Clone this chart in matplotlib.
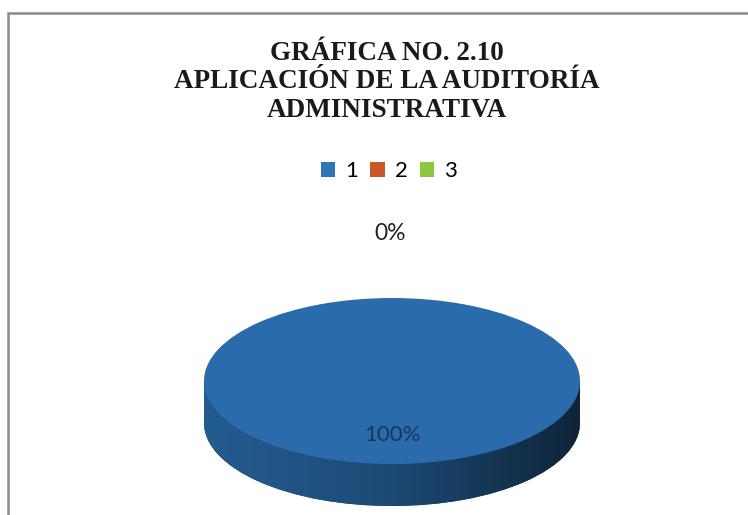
import numpy as np
import matplotlib.pyplot as plt
from matplotlib.patches import Rectangle
from matplotlib.colors import LinearSegmentedColormap

# datos de la grafica
labels = ["1", "2", "3"]
values = [100, 0, 0]
colors = ["#2a6cab", "#c55a2b", "#8dc63f"]
legend_colors = ["#2f74b5", "#c8582a", "#8ec640"]
title = "GRÁFICA NO. 2.10\nAPLICACIÓN DE LA AUDITORÍA\nADMINISTRATIVA"

W, H = 748, 515
fig = plt.figure(figsize=(W / 100, H / 100), dpi=100)
fig.patch.set_facecolor("white")

# marco gris del grafico
fig.patches.append(Rectangle((8 / W, -0.05), 1.2, (H - 13) / H + 0.05,
                             transform=fig.transFigure, fill=False,
                             edgecolor="#8a8a8a", lw=1.8))

fig.text(387 / W, 1 - 82 / H, title, ha="center", va="center",
         family="Liberation Serif", weight="bold", fontsize=19.5,
         linespacing=1.17, color="#1a1a1a")

# pastel "3D": elipse superior + lateral sombreado
cx, cy, rx, ry, depth = 392, 381, 188, 83, 42
t = depth / ry
top_px = cy - ry
h_px = ry * (2 + t)
ax = fig.add_axes([(cx - rx) / W, 1 - (top_px + h_px) / H, 2 * rx / W, h_px / H])

side_cmap = LinearSegmentedColormap.from_list("side", ["#245c90", "#1c4a75", "#0f2438"])
grad = np.linspace(0, 1, 256).reshape(1, -1)

low, _ = ax.pie(values, colors=["#1c4a75"] * 3, startangle=90,
                counterclock=False, radius=1, center=(0, -t))
rect = Rectangle((-1, -t), 2, t, facecolor="#1c4a75", edgecolor="none")
ax.add_patch(rect)
for clip in [low[0], rect]:
    im = ax.imshow(grad, cmap=side_cmap, extent=[-1, 1, -1 - t, 0],
                   aspect="auto", zorder=2)
    im.set_clip_path(clip)

wedges, texts, autotexts = ax.pie(values, colors=colors, startangle=90,
                                  counterclock=False, radius=1, center=(0, 0),
                                  autopct="%1.0f%%", pctdistance=0.65,
                                  wedgeprops=dict(zorder=3))
for w in wedges:
    w.set_zorder(3)
autotexts[0].set(color="#1b3656", fontsize=16, family="Lato", zorder=5)
autotexts[0].set_position((0.005, -0.65))
for a in autotexts[1:]:
    a.set(color="#222222", fontsize=16.5, family="Lato", zorder=5)
    a.set_position((-0.01, 1.78))
autotexts[2].set_visible(False)

ax.set_aspect("auto")
ax.set_xlim(-1, 1)
ax.set_ylim(-1 - t, 1)
ax.axis("off")

handles = [Rectangle((0, 0), 1, 1, facecolor=c, edgecolor="none") for c in legend_colors]
fig.legend(handles, labels, loc="center", bbox_to_anchor=(389 / W, 1 - 171 / H),
           ncol=3, frameon=False, handlelength=0.65, handleheight=0.65,
           handletextpad=0.45, columnspacing=0.55,
           prop=dict(family="Lato", size=16))

fig.savefig("out.png", dpi=100, facecolor="white")
